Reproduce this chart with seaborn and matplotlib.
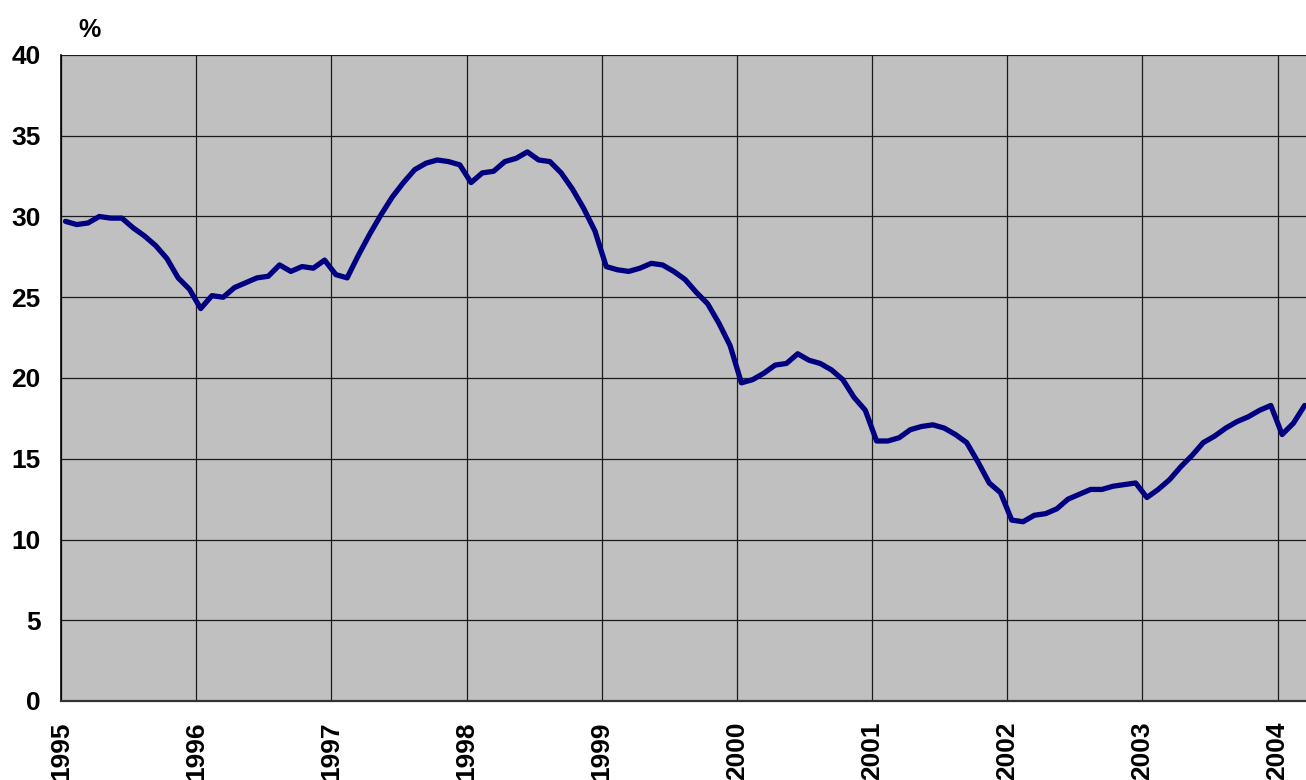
import matplotlib
matplotlib.use("Agg")
import matplotlib.pyplot as plt
import seaborn as sns
import pandas as pd

sns.set_style("white")
plt.rcParams['font.family'] = ['Liberation Sans', 'DejaVu Sans']

# monthly values, Jan 1995 - Mar 2004 (%)
start_year = 1995
rate_1995 = [29.7, 29.5, 29.6, 30.0, 29.9, 29.9, 29.3, 28.8, 28.2, 27.4, 26.2, 25.5]
rate_1996 = [24.3, 25.1, 25.0, 25.6, 25.9, 26.2, 26.3, 27.0, 26.6, 26.9, 26.8, 27.3]
rate_1997 = [26.4, 26.2, 27.6, 28.9, 30.1, 31.2, 32.1, 32.9, 33.3, 33.5, 33.4, 33.2]
rate_1998 = [32.1, 32.7, 32.8, 33.4, 33.6, 34.0, 33.5, 33.4, 32.7, 31.7, 30.5, 29.1]
rate_1999 = [26.9, 26.7, 26.6, 26.8, 27.1, 27.0, 26.6, 26.1, 25.3, 24.6, 23.4, 22.0]
rate_2000 = [19.7, 19.9, 20.3, 20.8, 20.9, 21.5, 21.1, 20.9, 20.5, 19.9, 18.8, 18.0]
rate_2001 = [16.1, 16.1, 16.3, 16.8, 17.0, 17.1, 16.9, 16.5, 16.0, 14.8, 13.5, 12.9]
rate_2002 = [11.2, 11.1, 11.5, 11.6, 11.9, 12.5, 12.8, 13.1, 13.1, 13.3, 13.4, 13.5]
rate_2003 = [12.6, 13.1, 13.7, 14.5, 15.2, 16.0, 16.4, 16.9, 17.3, 17.6, 18.0, 18.3]
rate_2004 = [16.5, 17.2, 18.3]

year_ticks = list(range(1995, 2005))
y_ticks = [0, 5, 10, 15, 20, 25, 30, 35, 40]

rate = (rate_1995 + rate_1996 + rate_1997 + rate_1998 + rate_1999 +
        rate_2000 + rate_2001 + rate_2002 + rate_2003 + rate_2004)
df = pd.DataFrame({
    'date': [start_year + (i + 0.4) / 12 for i in range(len(rate))],
    'rate': rate,
})

fig = plt.figure(figsize=(13.06, 7.8), dpi=100)
ax = fig.add_axes([61 / 1306, 79 / 780, 1245 / 1306, 646 / 780])
ax.set_facecolor('#C0C0C0')
ax.set_axisbelow(True)

sns.lineplot(data=df, x='date', y='rate', color='#000080', linewidth=3.8, ax=ax)

ax.set_xlim(1995, 2004.21)
ax.set_ylim(0, 40)
ax.set_xticks(year_ticks)
ax.set_xticklabels([str(y) for y in year_ticks], rotation=90, fontsize=19,
                   fontweight='bold', va='top')
ax.set_yticks(y_ticks)
ax.set_yticklabels([str(v) for v in y_ticks], fontsize=19, fontweight='bold')
ax.set_xlabel('')
ax.set_ylabel('')

ax.grid(True, color='#1a1a1a', linewidth=0.9)
ax.tick_params(axis='both', direction='inout', length=11.5, width=1,
               color='black', labelcolor='black')
ax.tick_params(axis='x', pad=9)
ax.tick_params(axis='y', pad=9)

for side in ['top', 'right']:
    ax.spines[side].set_visible(False)
ax.spines['left'].set_color('black')
ax.spines['left'].set_linewidth(1.2)
ax.spines['bottom'].set_color('#333333')
ax.spines['bottom'].set_linewidth(1.6)

fig.text(78 / 1306, 1 - 37 / 780, '%', fontsize=18, fontweight='bold', color='black')

fig.savefig('out.png', dpi=100)
plt.close(fig)
